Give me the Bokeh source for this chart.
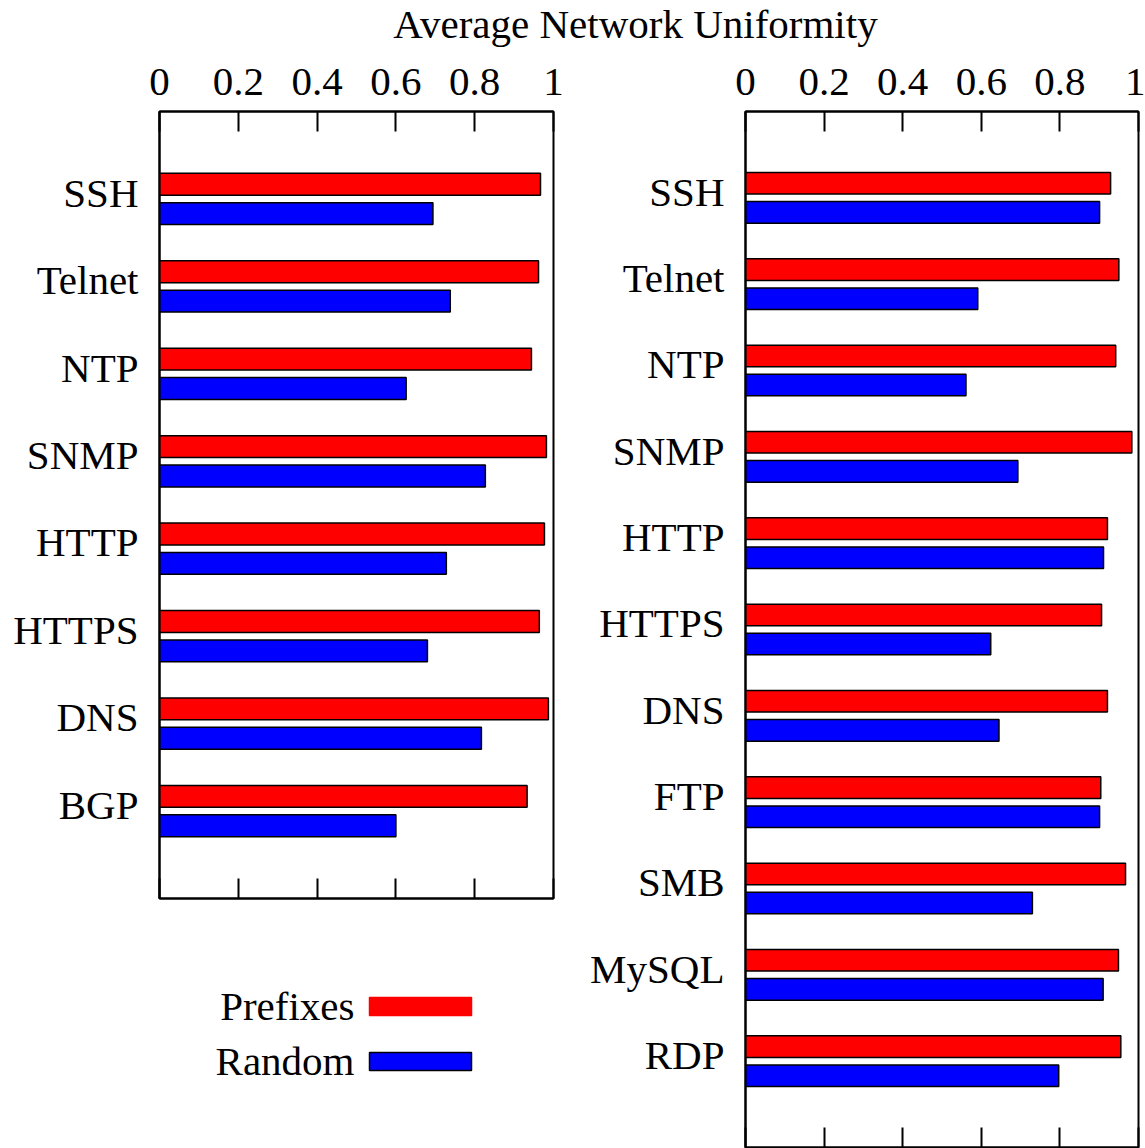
from bokeh.plotting import figure
from bokeh.models import Range1d, FixedTicker, LinearAxis, ColumnDataSource
from bokeh.layouts import column, row
from bokeh.embed import file_html
from bokeh.resources import INLINE
from bokeh.core.properties import value

# ---------------- data ----------------
left_categories = ["SSH", "Telnet", "NTP", "SNMP", "HTTP", "HTTPS", "DNS", "BGP"]
left_prefixes = [0.967, 0.962, 0.944, 0.982, 0.977, 0.964, 0.987, 0.933]
left_random = [0.694, 0.738, 0.626, 0.827, 0.728, 0.680, 0.817, 0.600]

right_categories = ["SSH", "Telnet", "NTP", "SNMP", "HTTP", "HTTPS", "DNS",
                    "FTP", "SMB", "MySQL", "RDP"]
right_prefixes = [0.929, 0.950, 0.942, 0.983, 0.921, 0.906, 0.921, 0.904, 0.967, 0.949, 0.955]
right_random = [0.901, 0.591, 0.561, 0.693, 0.911, 0.624, 0.645, 0.901, 0.730, 0.910, 0.797]

x_ticks = [0, 0.2, 0.4, 0.6, 0.8, 1]
x_tick_labels = ["0", "0.2", "0.4", "0.6", "0.8", "1"]
series = ["Prefixes", "Random"]
series_colors = ["#ff0000", "#0000ff"]
series_edges = ["#ff0000", "#000000"]
title_text = "Average Network Uniformity"

FONT = "Liberation Serif"
FS = "41px"
BAR_H = 0.25
OFF = 0.168
LABEL_LIFT = 0.072   # category labels sit slightly above the group centre
BASE_FIX = 15        # svg alphabetic baseline correction


def panel(cats, pref, rand, width, height, bl, br, bb):
    n = len(cats)
    pos = list(range(1, n + 1))
    p = figure(width=width, height=height, x_range=Range1d(0, 1),
               y_range=Range1d(n + 1, 0), x_axis_location="above",
               output_backend="svg", toolbar_location=None,
               min_border_left=bl, min_border_right=br,
               min_border_top=58, min_border_bottom=bb)
    p.grid.visible = False
    p.outline_line_color = "black"
    p.outline_line_width = 2
    p.outline_line_alpha = 1

    src = ColumnDataSource(dict(
        y_p=[q - OFF for q in pos], y_r=[q + OFF for q in pos],
        pref=pref, rand=rand))
    p.hbar(y="y_p", left=0, right="pref", height=BAR_H, source=src,
           fill_color=series_colors[0], line_color="black", line_width=1.5)
    p.hbar(y="y_r", left=0, right="rand", height=BAR_H, source=src,
           fill_color=series_colors[1], line_color="black", line_width=1.5)

    ax = p.xaxis[0]
    ax.ticker = FixedTicker(ticks=x_ticks)
    ax.major_label_overrides = dict(zip(x_ticks, x_tick_labels))
    ax.major_tick_in = 20
    ax.major_tick_out = 0
    ax.minor_tick_line_color = None
    ax.major_tick_line_width = 2
    ax.axis_line_width = 2
    ax.major_label_text_font = FONT
    ax.major_label_text_font_size = FS
    ax.major_label_text_color = "black"
    ax.major_label_standoff = 17

    b = LinearAxis(ticker=FixedTicker(ticks=x_ticks),
                   major_label_overrides={t: "" for t in x_ticks},
                   major_tick_in=20, major_tick_out=0,
                   minor_tick_line_color=None, major_tick_line_width=2,
                   axis_line_width=2, major_label_standoff=0,
                   major_label_text_font_size="1px")
    p.add_layout(b, "below")

    label_pos = [q - LABEL_LIFT for q in pos]
    ya = p.yaxis[0]
    ya.ticker = FixedTicker(ticks=label_pos)
    ya.major_label_overrides = dict(zip(label_pos, cats))
    ya.major_tick_in = 0
    ya.major_tick_out = 0
    ya.minor_tick_line_color = None
    ya.axis_line_width = 2
    ya.major_label_text_font = FONT
    ya.major_label_text_font_size = FS
    ya.major_label_text_color = "black"
    ya.major_label_standoff = 21
    return p


# title strip
TW, TH = 1145, 53
tf = figure(width=TW, height=TH, x_range=Range1d(0, TW), y_range=Range1d(TH, 0),
            x_axis_location=None, y_axis_location=None, min_border=0,
            output_backend="svg", toolbar_location=None)
tf.grid.visible = False
tf.outline_line_color = None
tsrc = ColumnDataSource(dict(x=[635], y=[38 - BASE_FIX], t=[title_text]))
tf.text(x="x", y="y", text="t", source=tsrc, text_font=value(FONT),
        text_font_size=FS, text_align="center", text_baseline="alphabetic",
        text_color="black")

left = panel(left_categories, left_prefixes, left_random, 570, 855, 159, 17, 10)
right = panel(right_categories, right_prefixes, right_random, 575, 1095, 175, 7, 1)

# legend strip (under the left panel); frame aligned with the left panel frame
LW, LH = 394, 240
lf = figure(width=570, height=LH, x_range=Range1d(0, LW), y_range=Range1d(LH, 0),
            x_axis_location=None, y_axis_location=None,
            min_border_left=159, min_border_right=17, min_border_top=0, min_border_bottom=0,
            output_backend="svg", toolbar_location=None)
lf.grid.visible = False
lf.outline_line_color = None
row0, step = 98, 55
centers = [row0 + i * step for i in range(len(series))]
lsrc = ColumnDataSource(dict(
    label=series, color=series_colors, edge=series_edges,
    tx=[195] * len(series), ty=[c + 14 - BASE_FIX for c in centers],
    l=[210] * len(series), r=[312] * len(series),
    t=[c - 9 for c in centers], bt=[c + 9 for c in centers]))
lf.text(x="tx", y="ty", text="label", source=lsrc, text_font=value(FONT),
        text_font_size=FS, text_align="right", text_baseline="alphabetic",
        text_color="black")
lf.quad(left="l", right="r", top="t", bottom="bt", source=lsrc,
        fill_color="color", line_color="edge", line_width=1.5)

layout = column(tf, row(column(left, lf), right))
open("out.html", "w").write(file_html(layout, INLINE))
